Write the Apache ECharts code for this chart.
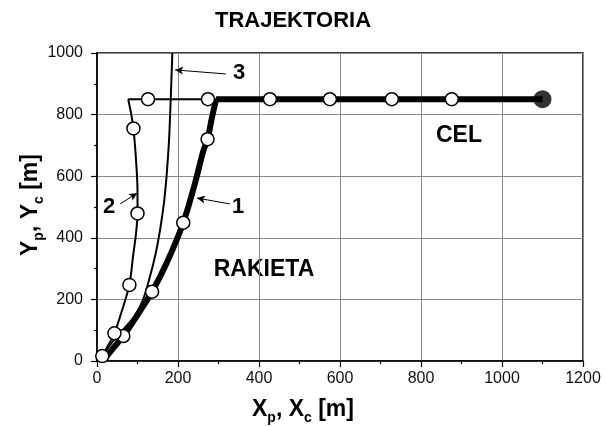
<!DOCTYPE html>
<html>
<head>
<meta charset="utf-8">
<script src="https://cdn.jsdelivr.net/npm/echarts@6/dist/echarts.min.js"></script>
<style>
  html, body { margin: 0; padding: 0; background: #fff; }
  #chart { width: 606px; height: 426px; }
</style>
</head>
<body>
<div id="chart"></div>
<script>
// axis ranges
const xRange = [0, 1200]
const yRange = [0, 1000]

// rakieta 1 (gruba linia) - tor i znaczniki
const rocket1Path = [[18, 5], [40, 42], [65, 81], [100, 150], [136, 225], [172, 318], [213, 449], [242, 577], [262, 680], [273, 720], [283, 785], [294, 850]]
const rocket1Marks = [[65, 81], [136, 225], [213, 449], [273, 720]]

// rakieta 2
const rocket2Path = [[13, 16], [28, 52], [43, 90], [62, 165], [80, 247], [89, 340], [96, 410], [100, 479], [100, 550], [97, 640], [90, 755], [84, 805], [77, 850]]
const rocket2Marks = [[13, 16], [43, 90], [80, 247], [100, 479], [90, 755]]

// rakieta 3 (bez znaczników)
const rocket3Path = [[13, 16], [40, 65], [70, 110], [94, 148], [114, 200], [130, 270], [145, 350], [155, 420], [165, 510], [172, 604], [178, 720], [182, 850], [186, 1000]]

// cel
const targetThinPath = [[77, 850], [294, 850]]
const targetThickPath = [[294, 850], [1100, 850]]
const targetMarks = [[126, 850], [274, 850], [427, 850], [575, 850], [728, 850], [876, 850]]
const targetStart = [[1100, 850]]

// strzałki opisów krzywych (od etykiety do krzywej)
const arrow1 = [[328, 510], [247, 529]]
const arrow2 = [[57, 510], [99, 545]]
const arrow3 = [[318, 932], [193, 945]]

const font = 'Liberation Sans, Arial, sans-serif'
const chart = echarts.init(document.getElementById('chart'))

const lineSeries = (data, width, smooth) => ({
  type: 'line',
  data: data,
  symbol: 'none',
  smooth: smooth,
  silent: true,
  lineStyle: { color: '#000', width: width },
  z: 3
})

const hollow = (data) => ({
  type: 'scatter',
  data: data,
  symbol: 'circle',
  symbolSize: 13,
  itemStyle: { color: '#fff', borderColor: '#000', borderWidth: 1.5, opacity: 1 },
  z: 5
})

const arrowLine = (pts) => [{ coord: pts[0] }, { coord: pts[1] }]

const boldText = { fontFamily: font, fontWeight: 'bold', fill: '#000' }

const axisCommon = {
  axisLine: { show: true, lineStyle: { color: '#000', width: 1.5 } },
  axisTick: { show: true, inside: false, length: 6, lineStyle: { color: '#000', width: 1.2 } },
  minorTick: { show: true, splitNumber: 2, length: 3, lineStyle: { color: '#000', width: 1.2 } },
  splitLine: { show: true, lineStyle: { color: '#8a8a8a', width: 1 } }
}

chart.setOption({
  animation: false,
  grid: {
    left: 97, right: 23, top: 53, bottom: 65,
    show: true, borderColor: '#000', borderWidth: 1.5
  },
  xAxis: Object.assign({
    type: 'value', min: xRange[0], max: xRange[1], interval: 200,
    axisLabel: { color: '#111', fontSize: 16, fontFamily: font, margin: 10, formatter: v => String(v) }
  }, axisCommon),
  yAxis: Object.assign({
    type: 'value', min: yRange[0], max: yRange[1], interval: 200,
    axisLabel: { color: '#111', fontSize: 16, fontFamily: font, margin: 14, formatter: v => String(v) }
  }, axisCommon),
  series: [
    lineSeries(rocket3Path, 2, 0.3),
    lineSeries(rocket2Path, 2, 0.3),
    lineSeries(targetThinPath, 2, false),
    lineSeries(rocket1Path, 6, 0.3),
    lineSeries(targetThickPath, 6, false),
    hollow(rocket1Marks),
    hollow(rocket2Marks),
    hollow(targetMarks),
    {
      type: 'scatter',
      data: targetStart,
      symbol: 'circle',
      symbolSize: 18,
      itemStyle: { color: '#000' },
      z: 5
    },
    {
      type: 'line',
      data: [],
      markLine: {
        silent: true,
        symbol: ['none', 'arrow'],
        symbolSize: [6, 8],
        label: { show: false },
        lineStyle: { color: '#000', width: 1, type: 'solid' },
        data: [arrowLine(arrow1), arrowLine(arrow2), arrowLine(arrow3)]
      }
    }
  ],
  graphic: [
    { type: 'text', x: 293, y: 21, style: Object.assign({ text: 'TRAJEKTORIA', fontSize: 22, align: 'center', verticalAlign: 'middle' }, boldText) },
    { type: 'text', x: 459, y: 136, style: Object.assign({ text: 'CEL', fontSize: 23, align: 'center', verticalAlign: 'middle' }, boldText) },
    { type: 'text', x: 264, y: 270, style: Object.assign({ text: 'RAKIETA', fontSize: 23, align: 'center', verticalAlign: 'middle' }, boldText) },
    { type: 'text', x: 238, y: 207, style: Object.assign({ text: '1', fontSize: 22, align: 'center', verticalAlign: 'middle' }, boldText) },
    { type: 'text', x: 109, y: 207, style: Object.assign({ text: '2', fontSize: 22, align: 'center', verticalAlign: 'middle' }, boldText) },
    { type: 'text', x: 239, y: 73, style: Object.assign({ text: '3', fontSize: 22, align: 'center', verticalAlign: 'middle' }, boldText) },
    {
      type: 'text', x: 303, y: 410,
      style: {
        text: '{m|X}{s|p}{m|, X}{s|c}{m| [m]}',
        align: 'center', verticalAlign: 'middle',
        rich: {
          m: { fontSize: 23, fontWeight: 'bold', fontFamily: font, color: '#000', lineHeight: 30 },
          s: { fontSize: 14, fontWeight: 'bold', fontFamily: font, color: '#000', lineHeight: 16, verticalAlign: 'bottom' }
        }
      }
    },
    {
      type: 'text', x: 31, y: 205, rotation: Math.PI / 2,
      style: {
        text: '{m|Y}{s|p}{m|, Y}{s|c}{m| [m]}',
        align: 'center', verticalAlign: 'middle',
        rich: {
          m: { fontSize: 23, fontWeight: 'bold', fontFamily: font, color: '#000', lineHeight: 30 },
          s: { fontSize: 14, fontWeight: 'bold', fontFamily: font, color: '#000', lineHeight: 16, verticalAlign: 'bottom' }
        }
      }
    }
  ]
})
</script>
</body>
</html>
